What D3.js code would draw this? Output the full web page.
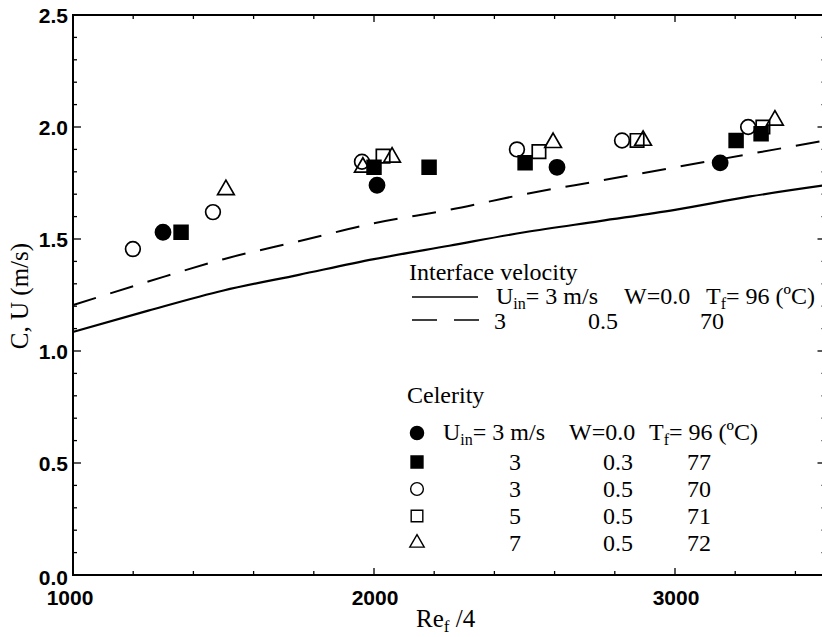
<!DOCTYPE html>
<html lang="en">
<head>
    <meta charset="UTF-8">
    <title>Celerity and interface velocity</title>
    <script src="https://d3js.org/d3.v7.min.js"></script>
    <style>
        body {
            margin: 0;
            background: white;
        }
        .tick-label {
            font-family: "Liberation Sans", Arial, sans-serif;
            font-weight: bold;
            font-size: 21px;
        }
        .serif {
            font-family: "Liberation Serif", "Times New Roman", serif;
            font-size: 24px;
        }
    </style>
</head>
<body>
    <svg id="chart" width="822" height="637"></svg>

    <script>
        // interface velocity curves
        const lineX = [1000, 1250, 1500, 1750, 2000, 2250, 2500, 2750, 3000, 3250, 3500];
        const solidY = [1.085, 1.18, 1.27, 1.34, 1.41, 1.47, 1.53, 1.58, 1.63, 1.69, 1.74];
        const dashedY = [1.205, 1.31, 1.41, 1.49, 1.57, 1.63, 1.70, 1.76, 1.82, 1.88, 1.94];

        // celerity points
        const filledCircleX = [1299, 2010, 2608, 3150];
        const filledCircleY = [1.53, 1.74, 1.82, 1.84];
        const filledSquareX = [1359, 2000, 2183, 2502, 3203, 3286];
        const filledSquareY = [1.53, 1.82, 1.82, 1.84, 1.94, 1.97];
        const openCircleX = [1199, 1465, 1960, 2475, 2824, 3243];
        const openCircleY = [1.455, 1.62, 1.845, 1.90, 1.94, 2.00];
        const openSquareX = [2030, 2548, 2874, 3292];
        const openSquareY = [1.87, 1.89, 1.94, 2.00];
        const triangleX = [1508, 1963, 2060, 2595, 2894, 3332];
        const triangleY = [1.72, 1.82, 1.865, 1.93, 1.94, 2.03];

        // legend text
        const interfaceRows = [["3", "0.5", "70"]];
        const celerityRows = [["3", "0.3", "77"], ["3", "0.5", "70"], ["5", "0.5", "71"], ["7", "0.5", "72"]];

        const yTicks = [0.0, 0.5, 1.0, 1.5, 2.0, 2.5];
        const xTicks = [1000, 2000, 3000];

        const svg = d3.select("#chart");
        const x = d3.scaleLinear().domain([1000, 3500]).range([73, 825.5]);
        const y = d3.scaleLinear().domain([0, 2.5]).range([575, 15]);

        const symbolPath = (type, size) => d3.symbol().type(type).size(size)();

        // frame
        svg.append("rect")
            .attr("x", x(1000)).attr("y", y(2.5))
            .attr("width", x(3500) - x(1000)).attr("height", y(0) - y(2.5))
            .attr("fill", "none").attr("stroke", "black").attr("stroke-width", 2);

        // inward ticks
        const minorY = d3.range(0, 2.51, 0.1);
        const minorX = d3.range(1000, 3501, 200);
        const tickG = svg.append("g").attr("stroke", "black").attr("stroke-width", 1.3);
        minorY.forEach(v => {
            const major = Math.abs(v * 2 - Math.round(v * 2)) < 1e-6;
            const len = major ? 8 : 4;
            tickG.append("line").attr("x1", x(1000)).attr("x2", x(1000) + len).attr("y1", y(v)).attr("y2", y(v));
            tickG.append("line").attr("x1", x(3500)).attr("x2", x(3500) - len).attr("y1", y(v)).attr("y2", y(v));
        });
        minorX.forEach(v => {
            const len = v % 1000 === 0 ? 7 : 4;
            tickG.append("line").attr("x1", x(v)).attr("x2", x(v)).attr("y1", y(0)).attr("y2", y(0) - len);
            tickG.append("line").attr("x1", x(v)).attr("x2", x(v)).attr("y1", y(2.5)).attr("y2", y(2.5) + len);
        });

        // tick labels
        svg.selectAll("text.ylab").data(yTicks).join("text")
            .attr("class", "tick-label ylab")
            .attr("x", 68)
            .attr("y", d => y(d) + (d === 0 ? 2 : 0))
            .attr("dy", "0.36em")
            .attr("text-anchor", "end")
            .text(d => d.toFixed(1));

        svg.selectAll("text.xlab").data(xTicks).join("text")
            .attr("class", "tick-label xlab")
            .attr("x", d => x(d) + (d === 1000 ? -3 : 1))
            .attr("y", 605)
            .attr("text-anchor", "middle")
            .text(d => d);

        // axis titles
        svg.append("text")
            .attr("class", "serif")
            .attr("transform", "translate(28,296) rotate(-90)")
            .attr("text-anchor", "middle")
            .style("font-size", "25px")
            .text("C, U (m/s)");

        const xt = svg.append("text")
            .attr("class", "serif")
            .attr("x", 416).attr("y", 627)
            .style("font-size", "25px");
        xt.append("tspan").text("Re");
        xt.append("tspan").attr("dy", 5).style("font-size", "17px").text("f");
        xt.append("tspan").attr("dy", -5).text(" /4");

        // interface velocity lines
        const line = d3.line().x(d => x(d[0])).y(d => y(d[1])).curve(d3.curveMonotoneX);
        svg.append("path")
            .datum(lineX.map((v, i) => [v, solidY[i]]))
            .attr("d", line)
            .attr("fill", "none").attr("stroke", "black").attr("stroke-width", 2.2);
        svg.append("path")
            .datum(lineX.map((v, i) => [v, dashedY[i]]))
            .attr("d", line)
            .attr("fill", "none").attr("stroke", "black").attr("stroke-width", 2)
            .attr("stroke-dasharray", "24,15");

        // celerity markers
        const series = [
            {xs: filledCircleX, ys: filledCircleY, type: d3.symbolCircle, size: 180, fill: "black"},
            {xs: filledSquareX, ys: filledSquareY, type: d3.symbolSquare, size: 190, fill: "black"},
            {xs: openCircleX, ys: openCircleY, type: d3.symbolCircle, size: 170, fill: "none"},
            {xs: openSquareX, ys: openSquareY, type: d3.symbolSquare, size: 180, fill: "none"},
            {xs: triangleX, ys: triangleY, type: d3.symbolTriangle, size: 120, fill: "none"}
        ];
        series.forEach(s => {
            svg.append("g").selectAll("path")
                .data(s.xs.map((v, i) => [v, s.ys[i]]))
                .join("path")
                .attr("transform", d => `translate(${x(d[0])},${y(d[1])})`)
                .attr("d", symbolPath(s.type, s.size))
                .attr("fill", s.fill)
                .attr("stroke", "black")
                .attr("stroke-width", 1.7);
        });

        // header line: U_in = 3 m/s   W=0.0   T_f = 96 (ºC)
        function header(x0, yb, wOff, tOff) {
            const t1 = svg.append("text").attr("class", "serif").attr("x", x0).attr("y", yb);
            t1.append("tspan").text("U");
            t1.append("tspan").attr("dy", 5).style("font-size", "16px").text("in");
            t1.append("tspan").attr("dy", -5).text("= 3 m/s");
            svg.append("text").attr("class", "serif").attr("x", x0 + wOff).attr("y", yb).text("W=0.0");
            const t3 = svg.append("text").attr("class", "serif").attr("x", x0 + tOff).attr("y", yb);
            t3.append("tspan").text("T");
            t3.append("tspan").attr("dy", 5).style("font-size", "16px").text("f");
            t3.append("tspan").attr("dy", -5).text("= 96 (ºC)");
        }

        // legend: interface velocity
        svg.append("text").attr("class", "serif").attr("x", 409).attr("y", 280).text("Interface velocity");
        svg.append("line").attr("x1", 412).attr("x2", 478).attr("y1", 297).attr("y2", 297)
            .attr("stroke", "black").attr("stroke-width", 1.5);
        header(496, 304, 128, 210);
        svg.append("line").attr("x1", 412).attr("x2", 479).attr("y1", 320).attr("y2", 320)
            .attr("stroke", "black").attr("stroke-width", 1.5).attr("stroke-dasharray", "25,17");
        interfaceRows.forEach(r => {
            [500, 603, 712].forEach((cx, j) => {
                svg.append("text").attr("class", "serif").attr("x", cx).attr("y", 329)
                    .attr("text-anchor", "middle").text(r[j]);
            });
        });

        // legend: celerity
        svg.append("text").attr("class", "serif").attr("x", 407).attr("y", 403).text("Celerity");
        const rowY = [433, 462, 489, 516, 543];
        series.forEach((s, i) => {
            svg.append("path")
                .attr("transform", `translate(417,${rowY[i]})`)
                .attr("d", symbolPath(s.type, s.size * 0.75))
                .attr("fill", s.fill)
                .attr("stroke", "black")
                .attr("stroke-width", 1.4);
        });
        header(443, rowY[0] + 7, 126, 206);
        celerityRows.forEach((r, i) => {
            [515, 618, 699].forEach((cx, j) => {
                svg.append("text").attr("class", "serif").attr("x", cx).attr("y", rowY[i + 1] + 8)
                    .attr("text-anchor", "middle").text(r[j]);
            });
        });
    </script>
</body>
</html>
